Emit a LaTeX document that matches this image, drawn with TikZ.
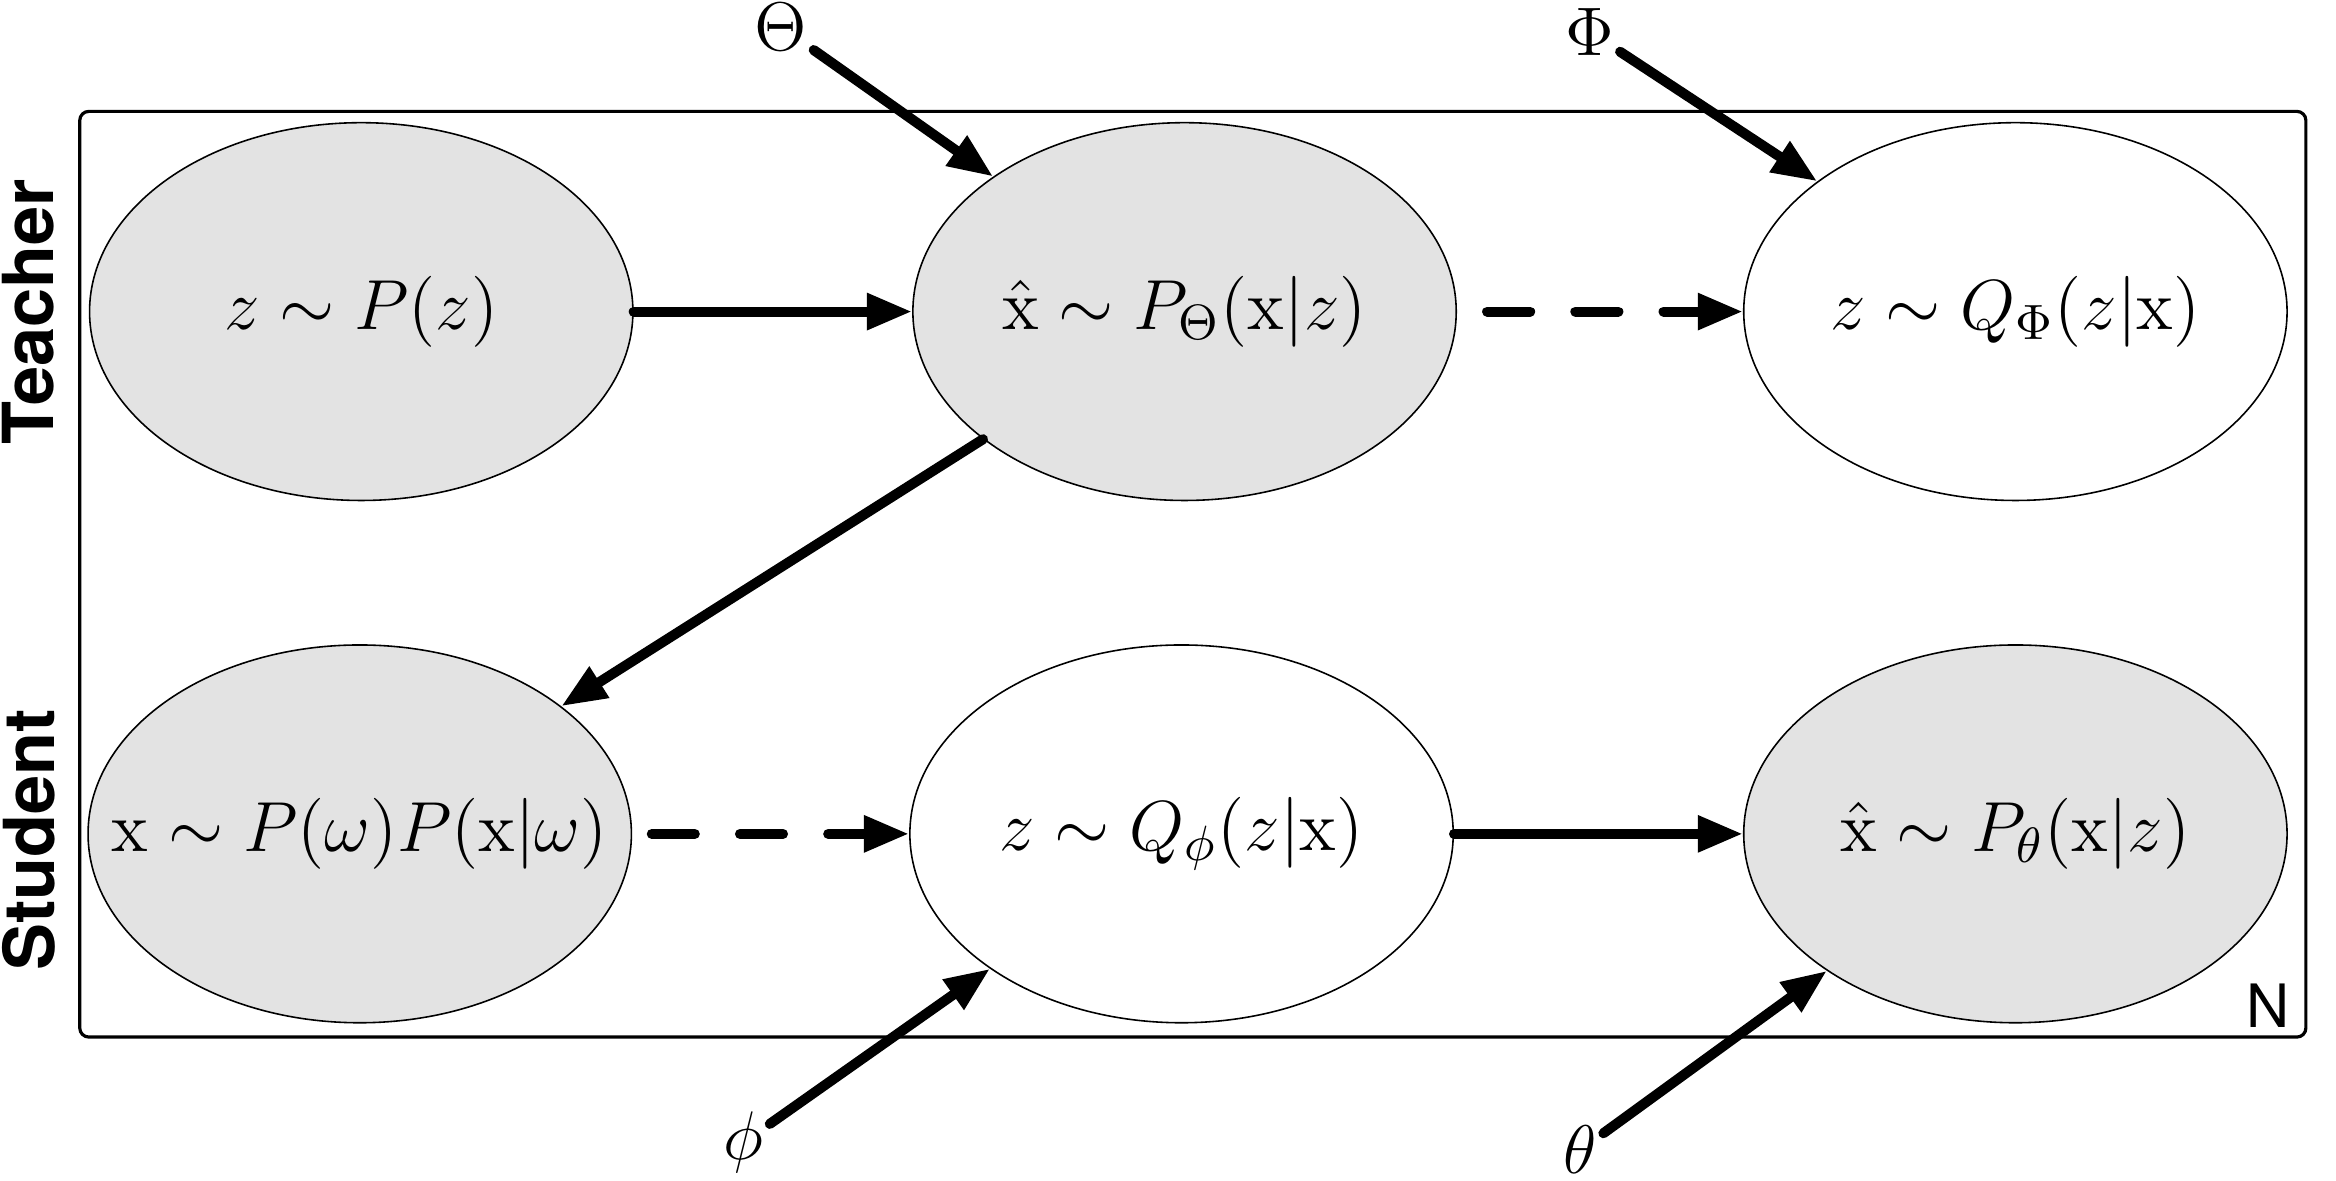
\RequirePackage{fix-cm}
\documentclass[tikz,border=0pt]{standalone}
\usepackage{amsmath}
\usepackage{fontspec}
\setsansfont{TeX Gyre Heros}
\usetikzlibrary{arrows.meta,shapes.geometric}
\definecolor{obsgray}{RGB}{227,227,227}

\begin{document}
\begin{tikzpicture}[
    var/.style={ellipse, draw, line width=0.3pt, minimum width=3.61cm, minimum height=2.51cm,
      inner xsep=-0.6cm, inner ysep=0pt, font=\fontsize{13.4}{16}\selectfont},
    obs/.style={var, fill=obsgray},
    arr/.style={line width=1.9pt, line cap=round, -{Triangle[length=0.3cm,width=0.23cm]}},
    darr/.style={arr, dash pattern=on 0.286cm off 0.3cm},
    par/.style={inner sep=1pt, font=\fontsize{13}{15}\selectfont},
    side/.style={rotate=90, font=\sffamily\bfseries\fontsize{13.3}{15}\selectfont}
  ]

      \useasboundingbox (0,0) rectangle (15.52,7.84);

      %\draw[help lines] (0,0) grid (15,7);

      \draw[line width=0.6pt, rounded corners=0.06cm] (0.53,0.95) rectangle (15.32,7.10);

      \node[obs] at ( 2.40,5.77) (zT) {$z\sim P(z)$};
      \node[obs] at ( 7.87,5.77) (xT) {$\hat{\mathrm{x}}\sim P_{\Theta}(\mathrm{x}|z)$};
      \node[var] at (13.39,5.77) (qT) {$z\sim Q_{\Phi}(z|\mathrm{x})$};

      \node[obs] at ( 2.39,2.30) (xS) {$\mathrm{x}\sim P(\omega)P(\mathrm{x}|\omega)$};
      \node[var] at ( 7.85,2.30) (qS) {$z\sim Q_{\phi}(z|\mathrm{x})$};
      \node[obs] at (13.39,2.30) (pS) {$\hat{\mathrm{x}}\sim P_{\theta}(\mathrm{x}|z)$};

      \node[side] at (0.19,5.77) (teacher) {Teacher};
      \node[side] at (0.19,2.26) (student) {Student};
      \node[font=\sffamily\fontsize{11.3}{13}\selectfont] at (15.07,1.16) (N) {N};

      \node[par] at ( 5.19,7.66) (Theta) {$\Theta$};
      \node[par] at (10.56,7.63) (Phi) {$\Phi$};
      \node[par] at ( 4.94,0.25) (phi) {$\phi$};
      \node[par] at (10.50,0.20) (theta) {$\theta$};

      \draw[arr] (zT)--(xT);
      \draw[darr, shorten <=0.2cm] (xT)--(qT);
      \draw[arr] (xT)--(xS);
      \draw[darr, shorten <=0.13cm] (xS)--(qS);
      \draw[arr] (qS)--(pS);

      \draw[arr] (Theta)--(xT);
      \draw[arr] (Phi)--(qT);
      \draw[arr] (phi)--(qS);
      \draw[arr] (theta)--(pS);
    \end{tikzpicture}
\end{document}
